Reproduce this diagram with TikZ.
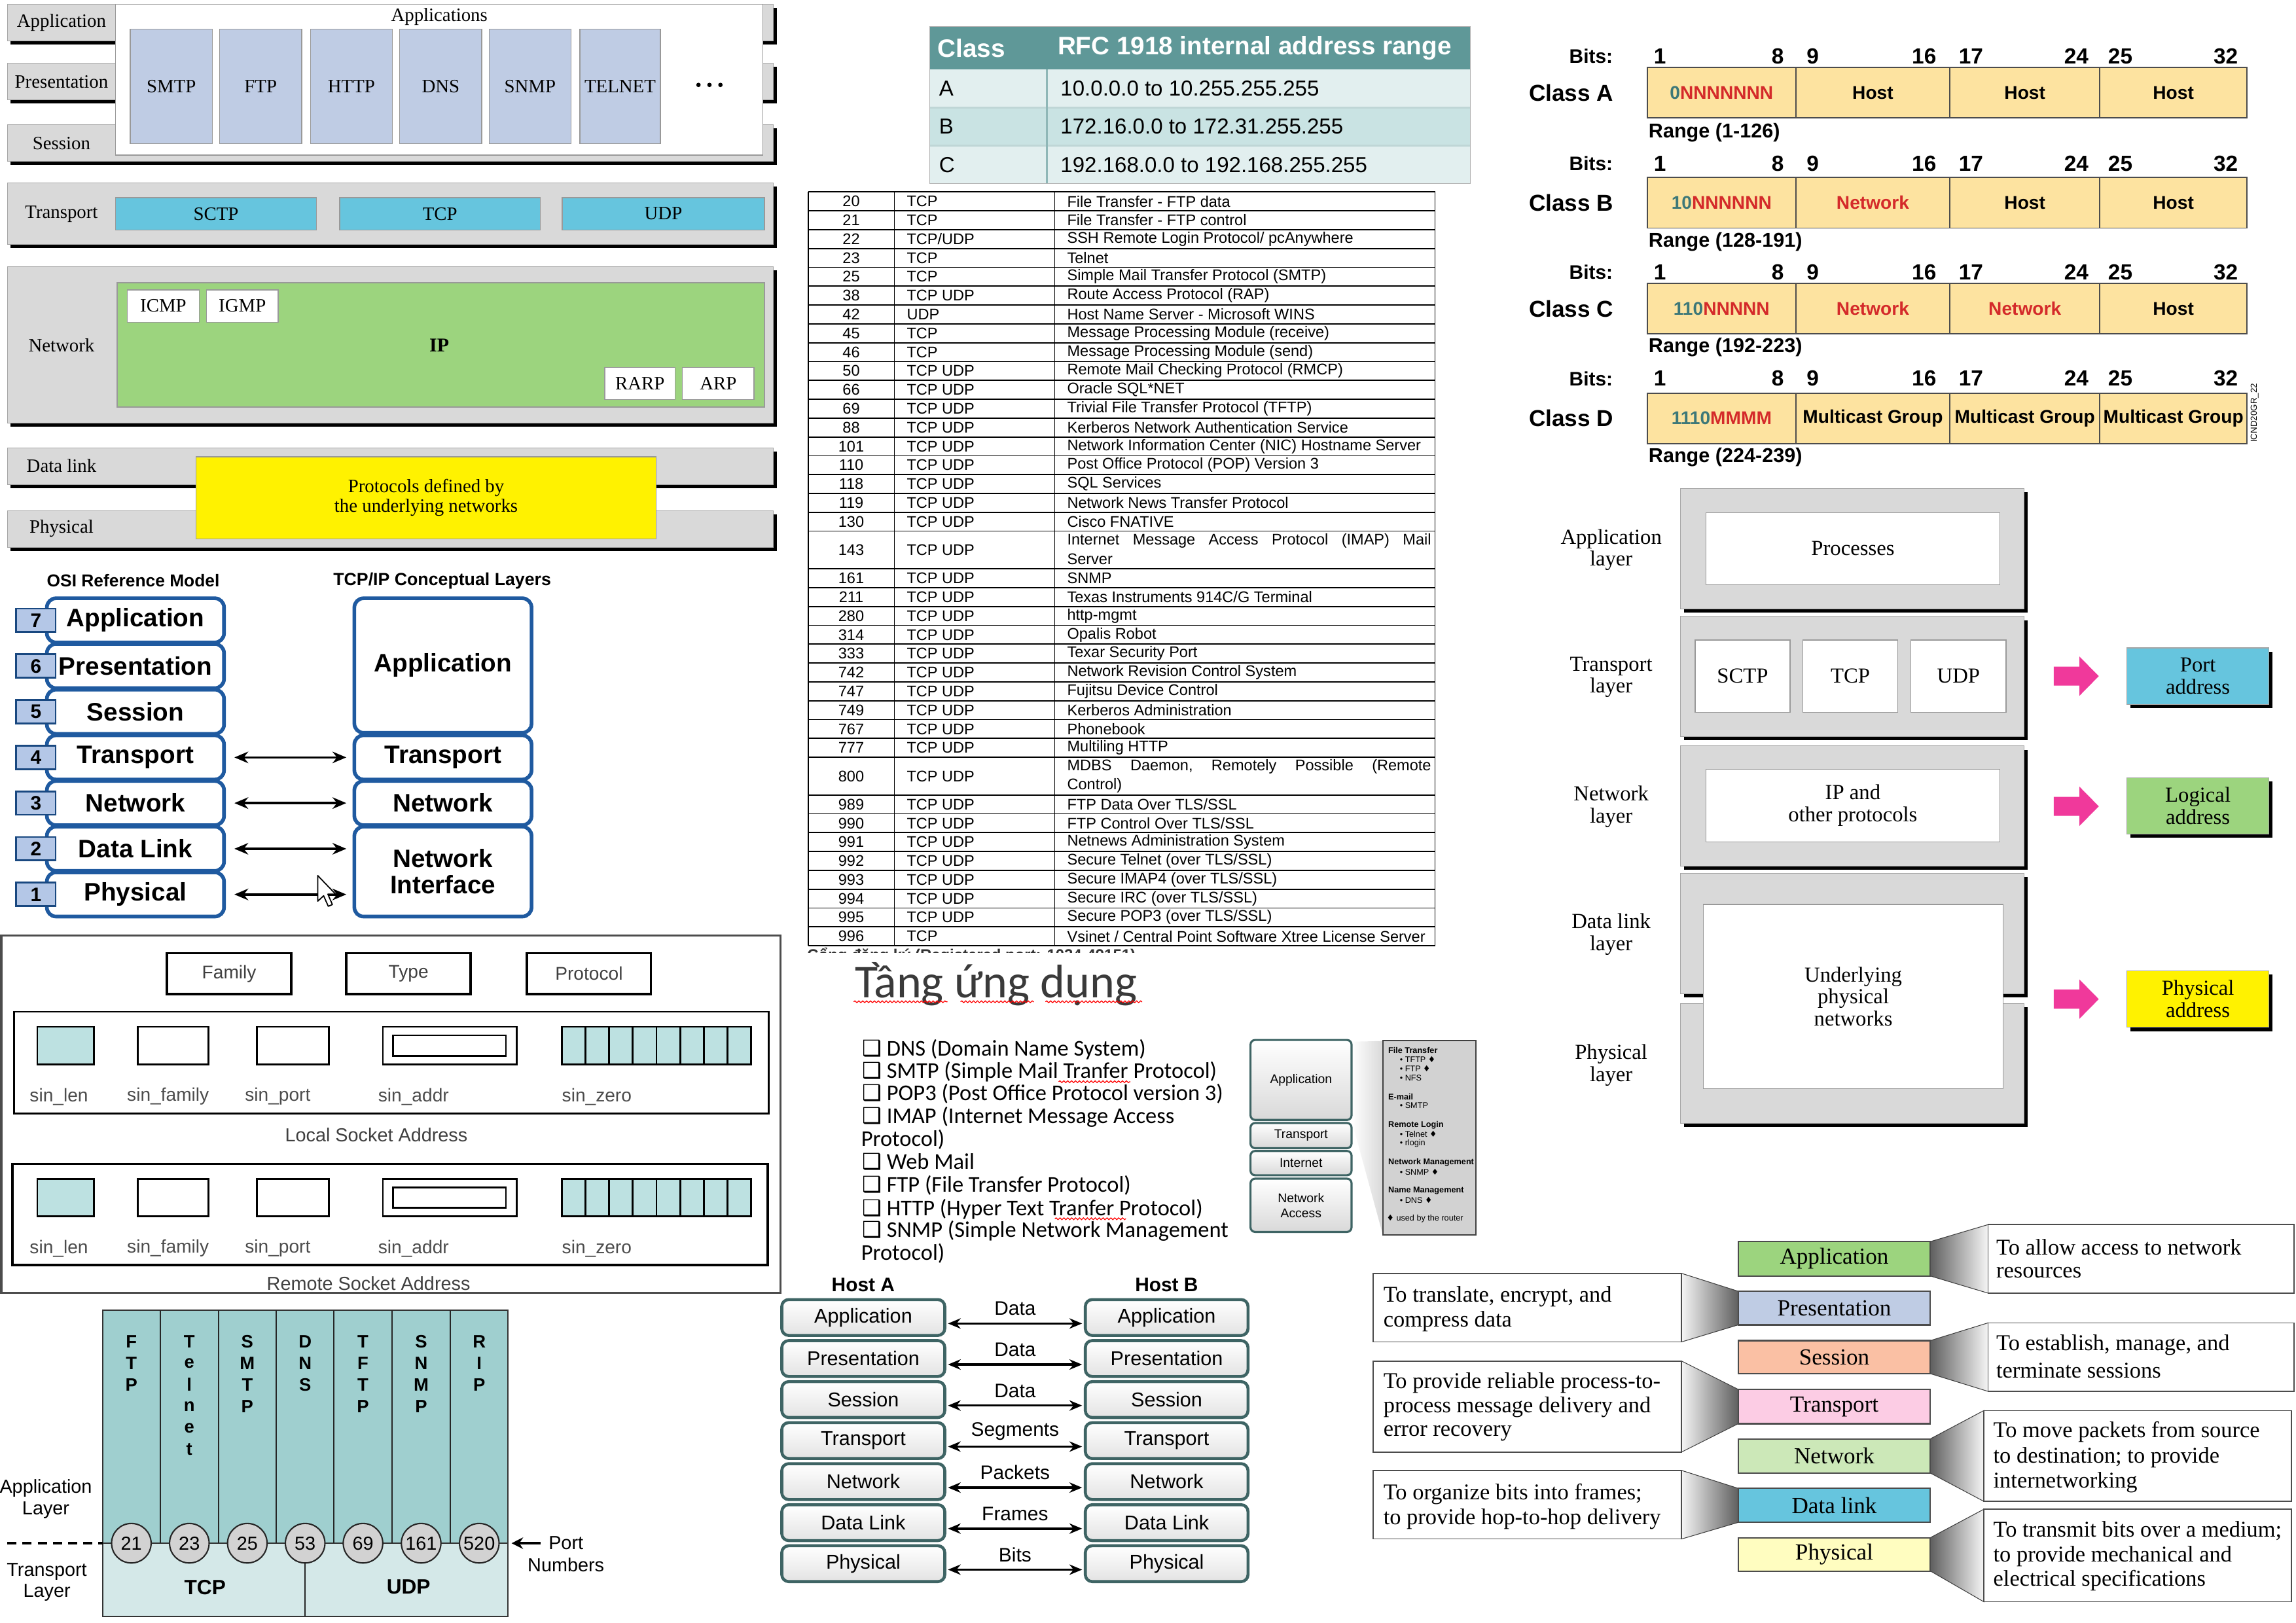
\documentclass[tikz,border=0pt]{standalone}
\usepackage{fontspec}
\setmainfont{Liberation Serif}
\setsansfont{Liberation Sans}
\newfontfamily\carlito{Carlito}
\newfontfamily\dejavu{DejaVu Sans}
\usetikzlibrary{shadows,arrows.meta,decorations.pathmorphing,fit,calc}
\newcommand\fsz[2]{\fontsize{#1}{#2}\selectfont}
\def\ux{0.022372cm}
\definecolor{boxgray}{HTML}{D9D9D9}
\definecolor{protoblue}{HTML}{BFCCE4}
\definecolor{cyanbox}{HTML}{66C5DE}
\definecolor{greenbox}{HTML}{9CD47E}
\definecolor{osiblue}{HTML}{1F5AA0}
\definecolor{numfill}{HTML}{B4C7E7}
\definecolor{portteal}{HTML}{9FCFCF}
\definecolor{portlight}{HTML}{D4E8E8}
\definecolor{circgray}{HTML}{D2D2D2}
\definecolor{sockteal}{HTML}{BDE1E1}
\definecolor{rfchead}{HTML}{5F9898}
\definecolor{rfcrowa}{HTML}{E2EFEF}
\definecolor{rfcrowb}{HTML}{C9E3E3}
\definecolor{classfill}{HTML}{FDE3A0}
\definecolor{classteal}{HTML}{3D7878}
\definecolor{classred}{HTML}{D42A2A}
\definecolor{pinkarrow}{HTML}{F0399B}
\definecolor{hostborder}{HTML}{3E6464}
\definecolor{titlegray}{HTML}{3A3A3A}
\definecolor{fpres}{HTML}{BFCCE4}
\definecolor{fses}{HTML}{FAC0A4}
\definecolor{ftrans}{HTML}{FCCCE4}
\definecolor{fnet}{HTML}{CCE8B8}
\definecolor{fphys}{HTML}{FFFDC0}
\tikzset{
 bx/.style={inner sep=0pt, outer sep=0pt},
 stackbox/.style={bx, fill=boxgray, draw=gray!70, line width=0.3pt,
   drop shadow={shadow xshift=1.5pt, shadow yshift=-1.6pt, fill=black, opacity=1}},
 whitebox/.style={bx, fill=white, draw=gray!80, line width=0.4pt},
 protobox/.style={bx, fill=protoblue, draw=gray!80, line width=0.4pt},
 cyanb/.style={bx, fill=cyanbox, draw=gray!80, line width=0.4pt},
 greenb/.style={bx, fill=greenbox, draw=gray!80, line width=0.4pt},
 osibox/.style={bx, draw=osiblue, line width=1.6pt, rounded corners=4pt, fill=white},
 numbox/.style={bx, draw=osiblue!80!black, line width=0.8pt, fill=numfill},
 dblarrow/.style={{Stealth[length=6pt,width=5pt]}-{Stealth[length=6pt,width=5pt]}, line width=1pt, shorten <=4.5pt, shorten >=3.5pt},
 sockb/.style={bx, draw=black, line width=0.8pt, fill=white},
 classcell/.style={bx, fill=classfill, draw=gray!60!black, line width=0.5pt},
 hostbox/.style={bx, rounded corners=3pt, draw=hostborder, line width=1.3pt, top color=white, bottom color=gray!22},
 harrow/.style={{Stealth[length=5.5pt,width=4.5pt]}-{Stealth[length=5.5pt,width=4.5pt]}, line width=1pt, shorten <=1.4pt, shorten >=1.4pt},
 tcpbox/.style={bx, rounded corners=2pt, draw=hostborder, line width=0.9pt, top color=white, bottom color=gray!30},
 fnbox/.style={bx, draw=gray!60!black, line width=0.6pt},
 txtbox/.style={bx, draw=gray!60!black, line width=0.5pt, fill=white},
 rwedge/.style={left color=gray!75!black, right color=gray!8, draw=gray!50!black, line width=0.3pt},
 lwedge/.style={left color=gray!8, right color=gray!75!black, draw=gray!50!black, line width=0.3pt},
 ftext/.style={anchor=west, inner sep=0pt, font=\rmfamily\fsz{9.8}{11}},
 bul/.style={anchor=base west, inner sep=0pt, font=\carlito\fsz{9.8}{11}},
 squig/.style={red, line width=0.35pt, decorate, decoration={snake, amplitude=0.4pt, segment length=1.7pt}},
 pinkarr/.pic={\fill[pinkarrow] (0,-6.5) -- (17.6,-6.5) -- (17.6,-13.4) -- (30.8,0) -- (17.6,13.4) -- (17.6,6.5) -- (0,6.5) -- cycle;}
}
\newcommand\cbx{{\dejavu\fsz{9.5}{10}❑}}
\newcommand\sockrow[4]{%
 \node[sockb, fill=sockteal, fit={(25.5,#2)(64,#3)}] (#1len) {};
 \node[sockb, fit={(94,#2)(142.5,#3)}] (#1fam) {};
 \node[sockb, fit={(175.5,#2)(224.5,#3)}] (#1port) {};
 \node[sockb, fit={(261.5,#2)(353,#3)}] (#1addr) {};
 \node[sockb, fit={(268.3,#2+5.8)(345.5,#3-5.8)}] (#1addrin) {};
 \node[sockb, fill=sockteal, fit={(383.7,#2)(513,#3)}] (#1zero) {};
 \foreach \k in {1,...,7} \draw[line width=0.8pt] (383.7+16.16*\k,#2) -- (383.7+16.16*\k,#3);
 \begin{scope}[every node/.style={anchor=west, inner sep=0pt, text=black!70}]
  \node (#1lenT) at (20,#4) {sin\_len};
  \node (#1famT) at (86.5,#4) {sin\_family};
  \node (#1portT) at (167,#4) {sin\_port};
  \node (#1addrT) at (258,#4) {sin\_addr};
  \node (#1zeroT) at (383.5,#4) {sin\_zero};
 \end{scope}
}
\newcommand\bitsrow[2]{%
 \node[anchor=east, inner sep=0pt, font=\sffamily\bfseries\fsz{8.5}{10}] (#2bits) at (1101.7,#1) {Bits:};
 \foreach \v/\xx in {1/1133.6,8/1214,9/1238,16/1314,17/1346,24/1418,25/1448,32/1520}
   \node[inner sep=0pt, font=\sffamily\bfseries\fsz{9.5}{11}] (#2b\v) at (\xx,#1) {\v};
}
\newcommand\classrow[7]{%
 \node[classcell, fit={(1125,#2)(1226.4,#3)}] (#1c1) {};
 \node[classcell, fit={(1226.4,#2)(1331.6,#3)}] (#1c2) {};
 \node[classcell, fit={(1331.6,#2)(1434,#3)}] (#1c3) {};
 \node[classcell, fit={(1434,#2)(1534.5,#3)}] (#1c4) {};
 \begin{scope}[every node/.style={inner sep=0pt, font=\sffamily\bfseries\fsz{8}{9}}]
  \node (#1t1) at (#1c1.center) {#4};
  \node (#1t2) at (#1c2.center) {#5};
  \node (#1t3) at (#1c3.center) {#6};
  \node (#1t4) at (#1c4.center) {#7};
 \end{scope}
}
\begin{document}
\begin{tikzpicture}[x=0.022372cm,y=-0.022372cm]
\useasboundingbox (0,0) rectangle (1568,1108.5);
\fill[white] (0,0) rectangle (1568,1108.5);

%================ 1. TCP/IP protocol suite
\begin{scope}[font=\rmfamily\fsz{8.2}{9.8}]
 \node[stackbox, fit={(5,3)(528,28)}] (r1app) {};
 \node[stackbox, fit={(5,43)(528,68)}] (r1pre) {};
 \node[stackbox, fit={(5,85)(528,110)}] (r1ses) {};
 \node[whitebox, fit={(79,3)(521,106)}] (r1apps) {};
 \node (r1appT) at (42,15.5) {Application};
 \node (r1preT) at (42,56) {Presentation};
 \node (r1sesT) at (42,98) {Session};
 \node (r1appsT) at (300,11.5) {Applications};
 \foreach \n/\a/\b [count=\i] in {SMTP/89/145,FTP/150/206,HTTP/212/268,DNS/273/329,SNMP/334/390,TELNET/396/451}{
   \node[protobox, fit={(\a,20)(\b,98)}] (r1p\i) {};
   \node (r1pT\i) at (r1p\i.center) {\n};
 }
 \foreach \xx in {477,484.5,492} \fill (\xx,58) circle[radius=1.5];
 \node[stackbox, fit={(5,125)(528,167)}] (r1tr) {};
 \node (r1trT) at (42,146) {Transport};
 \foreach \n/\a/\b [count=\i] in {SCTP/79/216,TCP/232/369,UDP/384/522}{
   \node[cyanb, fit={(\a,135)(\b,157)}] (r1t\i) {};
   \node (r1tT\i) at (r1t\i.center) {\n};
 }
 \node[stackbox, fit={(5,182)(528,289)}] (r1net) {};
 \node (r1netT) at (42,236) {Network};
 \node[greenb, fit={(80,193)(522,278)}] (r1ip) {};
 \node[font=\rmfamily\bfseries\fsz{8.5}{10}] (r1ipT) at (300,236) {IP};
 \foreach \n/\a/\b/\yt/\yb [count=\i] in {ICMP/87/136/198/220,IGMP/141/190/198/220,RARP/413/461/251/273,ARP/466/515/251/273}{
   \node[whitebox, fit={(\a,\yt)(\b,\yb)}] (r1n\i) {};
   \node (r1nT\i) at (r1n\i.center) {\n};
 }
 \node[stackbox, fit={(5,306)(528,331)}] (r1dl) {};
 \node (r1dlT) at (42,318) {Data link};
 \node[stackbox, fit={(5,349)(528,374)}] (r1ph) {};
 \node (r1phT) at (42,361) {Physical};
 \node[bx, fill=yellow, draw=gray!80, line width=0.4pt, fit={(134,312)(448,368)}] (r1yel) {};
 \node[align=center, font=\rmfamily\fsz{8.2}{8.5}] (r1yelT) at (r1yel.center) {Protocols defined by\\the underlying networks};
\end{scope}

%================ 2. OSI vs TCP/IP
\begin{scope}[font=\sffamily\bfseries\fsz{11}{11.5}]
 \node[font=\sffamily\bfseries\fsz{7.5}{9}] (osiTitle) at (91,396.6) {OSI Reference Model};
 \node[font=\sffamily\bfseries\fsz{7.6}{9}] (tcpTitle) at (302,396.6) {TCP/IP Conceptual Layers};
 \foreach \nm/\num [count=\i from 0] in {Application/7,Presentation/6,Session/5,Transport/4,Network/3,Data Link/2,Physical/1}{
   \pgfmathsetmacro\yt{408.6+31.2*\i}
   \pgfmathsetmacro\yb{\yt+30.2}
   \node[osibox, fit={(32,\yt)(153,\yb)}] (osi\num) {};
   \node (osiT\num) at (osi\num.center) {\nm};
   \node[numbox, fit={(11,\yt+7.1)(38,\yt+23.1)}] (osiN\num) {};
   \node[font=\sffamily\bfseries\fsz{8.5}{10}] (osiNT\num) at (osiN\num.center) {\num};
 }
 \node[osibox, fit={(242,408.6)(363,500.5)}] (tcpApp) {};
 \node (tcpAppT) at (tcpApp.center) {Application};
 \node[osibox, fit={(242,502.2)(363,532.4)}] (tcpTr) {};
 \node (tcpTrT) at (tcpTr.center) {Transport};
 \node[osibox, fit={(242,533.4)(363,563.6)}] (tcpNet) {};
 \node (tcpNetT) at (tcpNet.center) {Network};
 \node[osibox, fit={(242,564.6)(363,626)}] (tcpNI) {};
 \node[align=center] (tcpNIT) at (tcpNI.center) {Network\\Interface};
 \draw[dblarrow] (osi4.east) -- (tcpTr.west);
 \draw[dblarrow] (osi3.east) -- (tcpNet.west);
 \draw[dblarrow] (osi2.east) -- (osi2.east -| tcpNI.west);
 \draw[dblarrow] (osi1.east) -- (osi1.east -| tcpNI.west);
 \draw[fill=white, line width=0.5pt, line join=round] (217,598) -- (217,615.5) -- (221,611.8) -- (224.2,619) -- (227,617.8) -- (223.9,610.7) -- (229.2,610.7) -- cycle;
\end{scope}

%================ 3. Socket address
\begin{scope}[font=\sffamily\fsz{8}{9.6}]
 \node[bx, draw=black!70, line width=1pt, fit={(1,639)(533,883)}] (sOut) {};
 \foreach \n/\a/\b [count=\i] in {Family/114/199,Type/236.5/321.5,Protocol/360/444.5}{
   \node[sockb, line width=1.1pt, fit={(\a,651)(\b,679)}] (sH\i) {};
   \node[text=black!75] (sHT\i) at (sH\i.center) {\n};
 }
 \node[sockb, fill=none, fit={(9.6,691)(525,760.5)}] (sLocal) {};
 \sockrow{sL}{701.3}{727}{749}
 \node[text=black!75, font=\sffamily\fsz{8.2}{9.6}] (sLocalT) at (257,775) {Local Socket Address};
 \node[sockb, fill=none, line width=1pt, fit={(8.6,795)(524.3,864)}] (sRemote) {};
 \sockrow{sR}{805.4}{830.6}{852.7}
 \node[text=black!75, font=\sffamily\fsz{8.2}{9.6}] (sRemoteT) at (251.7,876.7) {Remote Socket Address};
\end{scope}

%================ 4. Port numbers
\begin{scope}[font=\sffamily\fsz{8.2}{9.2}]
 \node[bx, fill=portteal, draw=gray!40!black, line width=0.6pt, fit={(70,895)(347,1054)}] (pUp) {};
 \node[bx, fill=portlight, draw=gray!40!black, line width=0.6pt, fit={(70,1054)(347,1104)}] (pLow) {};
 \foreach \xx in {109.4,149.2,188.6,228.1,267.6,307.6} \draw[gray!30!black, line width=0.5pt] (\xx,895) -- (\xx,1054);
 \draw[gray!30!black, line width=0.5pt] (208.4,1054) -- (208.4,1104);
 \begin{scope}[every node/.style={inner sep=0pt, font=\sffamily\bfseries\fsz{7.8}{9}}]
  \foreach \L [count=\k from 0] in {F,T,P} \node (lF\k) at (89.7,916.4+14.7*\k) {\L};
  \foreach \L [count=\k from 0] in {T,e,l,n,e,t} \node (lT\k) at (129.3,916.4+14.7*\k) {\L};
  \foreach \L [count=\k from 0] in {S,M,T,P} \node (lS\k) at (168.9,916.4+14.7*\k) {\L};
  \foreach \L [count=\k from 0] in {D,N,S} \node (lD\k) at (208.4,916.4+14.7*\k) {\L};
  \foreach \L [count=\k from 0] in {T,F,T,P} \node (lTF\k) at (247.9,916.4+14.7*\k) {\L};
  \foreach \L [count=\k from 0] in {S,N,M,P} \node (lSN\k) at (287.6,916.4+14.7*\k) {\L};
  \foreach \L [count=\k from 0] in {R,I,P} \node (lR\k) at (327.3,916.4+14.7*\k) {\L};
 \end{scope}
 \foreach \v/\xx [count=\i] in {21/89.7,23/129.3,25/168.9,53/208.4,69/247.9,161/287.6,520/327.3}
   \node[circle, draw=gray!30!black, line width=0.6pt, fill=circgray, minimum size=27*\ux, inner sep=0pt, font=\sffamily\fsz{8.2}{9}] (pc\i) at (\xx,1054) {\v};
 \coordinate (pDashS) at (5,1054);
 \draw[dash pattern=on 4pt off 2.6pt, line width=1.3pt] (pDashS) -- (pUp.south west);
 \node (pPort) at (386.5,1054) {Port};
 \node (pNum) at (386.5,1069) {Numbers};
 \draw[-{Stealth[length=5pt,width=5pt]}, line width=1.2pt, shorten >=1.5pt] (pPort.west) -- (pUp.south east);
 \node[align=center] (pAppL) at (31.3,1023.8) {Application\\Layer};
 \node[align=center] (pTrL) at (32,1080.6) {Transport\\Layer};
 \node[font=\sffamily\bfseries\fsz{9}{10}] (pTCP) at (140,1084) {TCP};
 \node[font=\sffamily\bfseries\fsz{9}{10}] (pUDP) at (279,1084) {UDP};
\end{scope}

%================ 5. RFC 1918 table
\begin{scope}[every node/.style={inner sep=0pt, anchor=west, font=\sffamily\fsz{9.4}{11}}]
 \node[bx, fill=rfchead, fit={(635,18)(1004,47.5)}] (rfcHead) {};
 \node[bx, fill=rfcrowa, fit={(635,47.5)(1004,73.5)}] (rfcA) {};
 \node[bx, fill=rfcrowb, fit={(635,73.5)(1004,99.5)}] (rfcB) {};
 \node[bx, fill=rfcrowa, fit={(635,99.5)(1004,125.5)}] (rfcC) {};
 \draw[white!60!rfchead, line width=0.8pt] (635,73.5) -- (1004,73.5) (635,99.5) -- (1004,99.5);
 \draw[rfchead!70, line width=0.8pt] (715,47.5) -- (715,125.5);
 \draw[gray!60, line width=0.4pt] (635,18) rectangle (1004,125.5);
 \node[text=white, font=\sffamily\bfseries\fsz{11}{13}] (rfcH1) at (640,33) {Class};
 \node[text=white, font=\sffamily\bfseries\fsz{11}{13}] (rfcH2) at (722,33) {RFC 1918 internal address range};
 \node (rfcA1) at (641,60.5) {A};
 \node (rfcA2) at (724,60.5) {10.0.0.0 to 10.255.255.255};
 \node (rfcB1) at (641,86.5) {B};
 \node (rfcB2) at (724,86.5) {172.16.0.0 to 172.31.255.255};
 \node (rfcC1) at (641,112.5) {C};
 \node (rfcC2) at (724,112.5) {192.168.0.0 to 192.168.255.255};
\end{scope}

%================ 6. Port table
\begin{scope}[every node/.style={inner sep=0pt, font=\sffamily\fsz{6.7}{7.6}}]
 \foreach \s in {0,...,18} \draw[line width=0.5pt] (552,131.1+12.87*\s) -- (980,131.1+12.87*\s);
 \foreach \s in {20,...,30} \draw[line width=0.5pt] (552,131.1+12.87*\s) -- (980,131.1+12.87*\s);
 \foreach \s in {32,...,40} \draw[line width=0.5pt] (552,131.1+12.87*\s) -- (980,131.1+12.87*\s);
 \foreach \xx in {552,610.8,720.3,980} \draw[line width=0.5pt] (\xx,131.1) -- (\xx,645.9);
 \foreach \s/\n/\p/\d in {0/20/TCP/{File Transfer - FTP data},1/21/TCP/{File Transfer - FTP control},
   2/22/{TCP/UDP}/{SSH Remote Login Protocol/ pcAnywhere},3/23/TCP/{Telnet},
   4/25/TCP/{Simple Mail Transfer Protocol (SMTP)},5/38/{TCP UDP}/{Route Access Protocol (RAP)},
   6/42/UDP/{Host Name Server - Microsoft WINS},7/45/TCP/{Message Processing Module (receive)},
   8/46/TCP/{Message Processing Module (send)},9/50/{TCP UDP}/{Remote Mail Checking Protocol (RMCP)},
   10/66/{TCP UDP}/{Oracle SQL*NET},11/69/{TCP UDP}/{Trivial File Transfer Protocol (TFTP)},
   12/88/{TCP UDP}/{Kerberos Network Authentication Service},13/101/{TCP UDP}/{Network Information Center (NIC) Hostname Server},
   14/110/{TCP UDP}/{Post Office Protocol (POP) Version 3},15/118/{TCP UDP}/{SQL Services},
   16/119/{TCP UDP}/{Network News Transfer Protocol},17/130/{TCP UDP}/{Cisco FNATIVE},
   20/161/{TCP UDP}/{SNMP},21/211/{TCP UDP}/{Texas Instruments 914C/G Terminal},
   22/280/{TCP UDP}/{http-mgmt},23/314/{TCP UDP}/{Opalis Robot},
   24/333/{TCP UDP}/{Texar Security Port},25/742/{TCP UDP}/{Network Revision Control System},
   26/747/{TCP UDP}/{Fujitsu Device Control},27/749/{TCP UDP}/{Kerberos Administration},
   28/767/{TCP UDP}/{Phonebook},29/777/{TCP UDP}/{Multiling HTTP},
   32/989/{TCP UDP}/{FTP Data Over TLS/SSL},33/990/{TCP UDP}/{FTP Control Over TLS/SSL},
   34/991/{TCP UDP}/{Netnews Administration System},35/992/{TCP UDP}/{Secure Telnet (over TLS/SSL)},
   36/993/{TCP UDP}/{Secure IMAP4 (over TLS/SSL)},37/994/{TCP UDP}/{Secure IRC (over TLS/SSL)},
   38/995/{TCP UDP}/{Secure POP3 (over TLS/SSL)},39/996/TCP/{Vsinet / Central Point Software Xtree License Server}}{
   \node (ptn\n) at (581.3,131.1+12.87*\s+6.435) {\n};
   \node[anchor=west] (ptp\n) at (619,131.1+12.87*\s+6.435) {\p};
   \node[anchor=west] (ptd\n) at (728.5,131.1+12.87*\s+6.435) {\d};
 }
 \node (ptn143) at (581.3,375.6) {143};
 \node[anchor=west] (ptp143) at (619,375.6) {TCP UDP};
 \node[anchor=west] (ptd143a) at (728.5,369.2) {\hbox to 5.56cm{Internet\hfill Message\hfill Access\hfill Protocol\hfill (IMAP)\hfill Mail}};
 \node[anchor=west] (ptd143b) at (728.5,382) {Server};
 \node (ptn800) at (581.3,530.1) {800};
 \node[anchor=west] (ptp800) at (619,530.1) {TCP UDP};
 \node[anchor=west] (ptd800a) at (728.5,523.6) {\hbox to 5.56cm{MDBS\hfill Daemon,\hfill Remotely\hfill Possible\hfill (Remote}};
 \node[anchor=west] (ptd800b) at (728.5,536.5) {Control)};
\end{scope}
\begin{scope}
 \clip (548,647.2) rectangle (800,650.6);
 \node[anchor=base west, inner sep=0pt, font=\sffamily\bfseries\fsz{6.8}{8}, text=black!80] (cutT) at (551,655.8) {Cổng đăng ký (Registered port: 1024-49151)};
\end{scope}

%================ 7. IP address classes
\bitsrow{38.5}{cA}
\classrow{cA}{46.1}{80.6}{\textcolor{classteal}{0}\textcolor{classred}{NNNNNNN}}{Host}{Host}{Host}
\bitsrow{111.7}{cB}
\classrow{cB}{121}{155.8}{\textcolor{classteal}{10}\textcolor{classred}{NNNNNN}}{\textcolor{classred}{Network}}{Host}{Host}
\bitsrow{186}{cC}
\classrow{cC}{193.5}{228}{\textcolor{classteal}{110}\textcolor{classred}{NNNNN}}{\textcolor{classred}{Network}}{\textcolor{classred}{Network}}{Host}
\bitsrow{258.5}{cD}
\classrow{cD}{268.6}{302.9}{\textcolor{classteal}{1110}\textcolor{classred}{MMMM}}{Multicast Group}{Multicast Group}{Multicast Group}
\begin{scope}[every node/.style={inner sep=0pt, font=\sffamily\bfseries\fsz{10}{12}}]
 \node (cAlab) at (1073,63.4) {Class A};
 \node (cBlab) at (1073,138.4) {Class B};
 \node (cClab) at (1073,210.8) {Class C};
 \node (cDlab) at (1073,285.8) {Class D};
\end{scope}
\begin{scope}[every node/.style={inner sep=0pt, anchor=west, font=\sffamily\bfseries\fsz{8.7}{10}}]
 \node (cArng) at (1125.6,90.6) {Range (1-126)};
 \node (cBrng) at (1125.6,165.3) {Range (128-191)};
 \node (cCrng) at (1125.6,237) {Range (192-223)};
 \node (cDrng) at (1125.6,312.3) {Range (224-239)};
\end{scope}
\node[rotate=90, inner sep=0pt, font=\sffamily\fsz{3.8}{4.5}] (icnd) at (1539.7,282) {ICND20GR\_22};

%================ 8. Layers and addresses
\begin{scope}[font=\rmfamily\fsz{9.3}{9.6}]
 \foreach \nm/\yt/\yb/\ly [count=\i] in {Application/333.7/415.7/375.5,Transport/421/503/462.5,Network/509.5/591.5/551,Data link/596.6/678.8/638.3,Physical/685.4/767.3/727.4}{
   \node[stackbox, fit={(1147.7,\yt)(1382.3,\yb)}] (aL\i) {};
   \node[align=center] (aLT\i) at (1100.3,\ly) {\nm\\layer};
 }
 \node[whitebox, fit={(1165,350.1)(1365.7,399.3)}] (aProc) {};
 \node (aProcT) at (aProc.center) {Processes};
 \foreach \n/\a/\b [count=\i] in {SCTP/1157.7/1222.4,TCP/1231.3/1296,UDP/1305/1370}{
   \node[whitebox, fit={(\a,437.1)(\b,486.6)}] (aT\i) {};
   \node (aTT\i) at (aT\i.center) {\n};
 }
 \node[whitebox, fit={(1165,525.3)(1365.7,575.1)}] (aIP) {};
 \node[align=center] (aIPT) at (aIP.center) {IP and\\other protocols};
 \node[whitebox, fit={(1163.3,617.7)(1368,743.5)}] (aUnd) {};
 \node[align=center] (aUndT) at (aUnd.center) {Underlying\\physical\\networks};
 \foreach \yy in {461.8,550.7,682.4} \pic at (1402.5,\yy) {pinkarr};
 \foreach \nm/\col/\yt/\yb [count=\i] in {Port/cyanbox/442.5/481.2,Logical/greenbox/531.3/569.7,Physical/yellow/663/701.7}{
   \node[bx, fill=\col, draw=gray!70, line width=0.3pt, drop shadow={shadow xshift=1.5pt, shadow yshift=-1.6pt, fill=black, opacity=1}, fit={(1452.5,\yt)(1549.5,\yb)}] (aAd\i) {};
   \node[align=center] (aAdT\i) at (aAd\i.center) {\nm\\address};
 }
\end{scope}

%================ 9. Application layer (Vietnamese)
\node[anchor=base west, inner sep=0pt, font=\carlito\fsz{20.5}{24}, text=titlegray] (title) at (583.5,681.5) {Tầng ứng dụng};
\draw[squig] (583,684.2) -- (647,684.2);
\draw[squig] (656,684.2) -- (706,684.2);
\draw[squig] (714,684.2) -- (780,684.2);
\node[bul] (bl1) at (588.4,721) {\cbx{} DNS (Domain Name System)};
\node[bul] (bl2) at (588.4,736.6) {\cbx{} SMTP (Simple Mail Tranfer Protocol)};
\node[bul] (bl3) at (588.4,751.8) {\cbx{} POP3 (Post Office Protocol version 3)};
\node[bul] (bl4) at (588.4,767.1) {\cbx{} IMAP (Internet Message Access};
\node[bul] (bl5) at (587.8,782.7) {Protocol)};
\node[bul] (bl6) at (588.4,798.6) {\cbx{} Web Mail};
\node[bul] (bl7) at (588.4,814.3) {\cbx{} FTP (File Transfer Protocol)};
\node[bul] (bl8) at (588.4,830.2) {\cbx{} HTTP (Hyper Text Tranfer Protocol)};
\node[bul] (bl9) at (588.4,845.1) {\cbx{} SNMP (Simple Network Management};
\node[bul] (bl10) at (587.8,860.7) {Protocol)};
\draw[squig] (723,738.8) -- (772,738.8);
\draw[squig] (720.4,832.4) -- (769,832.4);
% small stack picture
\shade[left color=white, right color=gray!30] (923,711.5) -- (944.4,711) -- (944.4,843.5) -- (923,765) -- cycle;
\begin{scope}[font=\sffamily\fsz{5.5}{6.5}]
 \node[tcpbox, fit={(854,710.3)(923,764.9)}] (mApp) {};
 \node (mAppT) at (mApp.center) {Application};
 \node[tcpbox, fit={(854,767)(923,784.2)}] (mTr) {};
 \node (mTrT) at (mTr.center) {Transport};
 \node[tcpbox, fit={(854,786.1)(923,802.7)}] (mIn) {};
 \node (mInT) at (mIn.center) {Internet};
 \node[tcpbox, fit={(854,805)(923,841.4)}] (mNA) {};
 \node[align=center] (mNAT) at (mNA.center) {Network\\Access};
\end{scope}
\node[bx, fill=gray!35, draw=gray!50!black, line width=0.5pt, fit={(944.4,710.6)(1008,843.6)}] (mPanel) {};
\begin{scope}[every node/.style={anchor=west, inner sep=0pt, font=\sffamily\fsz{3.6}{4.2}}]
 \node[font=\sffamily\bfseries\fsz{3.6}{4.2}] (mp1) at (947.8,717.3) {File Transfer};
 \node (mp2) at (955.7,723.7) {• TFTP {\dejavu ♦}};
 \node (mp3) at (955.7,729.9) {• FTP {\dejavu ♦}};
 \node (mp4) at (955.7,736.3) {• NFS};
 \node[font=\sffamily\bfseries\fsz{3.6}{4.2}] (mp5) at (947.8,749.2) {E-mail};
 \node (mp6) at (955.7,755.2) {• SMTP};
 \node[font=\sffamily\bfseries\fsz{3.6}{4.2}] (mp7) at (947.8,768.3) {Remote Login};
 \node (mp8) at (955.7,774.8) {• Telnet {\dejavu ♦}};
 \node (mp9) at (955.7,780.9) {• rlogin};
 \node[font=\sffamily\bfseries\fsz{3.6}{4.2}] (mp10) at (947.8,794.1) {Network Management};
 \node (mp11) at (955.7,800.5) {• SNMP {\dejavu ♦}};
 \node[font=\sffamily\bfseries\fsz{3.6}{4.2}] (mp12) at (947.8,813.4) {Name Management};
 \node (mp13) at (955.7,819.8) {• DNS {\dejavu ♦}};
 \node (mp14) at (946.7,832.5) {{\dejavu ♦} used by the router};
\end{scope}

%================ 10. Host A / Host B
\node[font=\sffamily\bfseries\fsz{8.5}{10}] (hostA) at (589.5,877.5) {Host A};
\node[font=\sffamily\bfseries\fsz{8.5}{10}] (hostB) at (796.7,877.5) {Host B};
\begin{scope}[font=\sffamily\fsz{8.7}{10}]
 \foreach \nm/\lab [count=\i from 0] in {Application/Data,Presentation/Data,Session/Data,Transport/Segments,Network/Packets,Data Link/Frames,Physical/Bits}{
   \pgfmathsetmacro\yt{887.6+28.02*\i}
   \pgfmathsetmacro\yb{\yt+24.5}
   \node[hostbox, fit={(533.9,\yt)(645.2,\yb)}] (hA\i) {};
   \node (hAT\i) at (hA\i.center) {\nm};
   \node[hostbox, fit={(741.2,\yt)(852.3,\yb)}] (hB\i) {};
   \node (hBT\i) at (hB\i.center) {\nm};
   \draw[harrow] ([yshift=-2.6pt]hA\i.east) -- ([yshift=-2.6pt]hB\i.west) node[midway, yshift=6.5pt, font=\sffamily\fsz{8.5}{10}] (hL\i) {\lab};
 }
\end{scope}

%================ 11. OSI layer functions
\shadedraw[rwedge] (1318.3,848) -- (1357.7,836.4) -- (1357.7,883.2) -- (1318.3,871.5) -- cycle;
\shadedraw[rwedge] (1318.3,915.6) -- (1357.7,903.5) -- (1357.7,950.3) -- (1318.3,938.2) -- cycle;
\shadedraw[rwedge] (1318.3,982.7) -- (1354.8,963.4) -- (1354.8,1025.4) -- (1318.3,1006.1) -- cycle;
\shadedraw[rwedge] (1318.3,1050.2) -- (1354.8,1030.8) -- (1354.8,1094) -- (1318.3,1073) -- cycle;
\shadedraw[lwedge] (1148.4,869.7) -- (1187,881.9) -- (1187,904.9) -- (1148.4,916.5) -- cycle;
\shadedraw[lwedge] (1148.4,929.6) -- (1187,948.9) -- (1187,972.4) -- (1148.4,991.7) -- cycle;
\shadedraw[lwedge] (1148.4,1004.3) -- (1187,1016.5) -- (1187,1039.8) -- (1148.4,1051.1) -- cycle;
\foreach \nm/\col/\yt/\yb [count=\i] in {Application/greenbox/848/871.5,Presentation/fpres/881.9/904.9,Session/fses/915.6/938.2,Transport/ftrans/948.9/972.4,Network/fnet/982.7/1006.1,Data link/cyanbox/1016.5/1039.8,Physical/fphys/1050.2/1073}{
  \node[fnbox, fill=\col, fit={(1187,\yt)(1318.3,\yb)}] (fL\i) {};
  \node[font=\rmfamily\fsz{10}{12}] (fLT\i) at (fL\i.center) {\nm};
}
\node[txtbox, fit={(1357.7,836.4)(1566.5,883.2)}] (fR1) {};
\node[txtbox, fit={(1357.7,903.5)(1566.5,950.3)}] (fR2) {};
\node[txtbox, fit={(1354.8,963.4)(1565,1025.4)}] (fR3) {};
\node[txtbox, fit={(1354.8,1030.8)(1565,1094)}] (fR4) {};
\node[txtbox, fit={(937.6,869.7)(1148.4,916.5)}] (fQ1) {};
\node[txtbox, fit={(937.6,929.6)(1148.4,991.7)}] (fQ2) {};
\node[txtbox, fit={(937.6,1004.3)(1148.4,1051.1)}] (fQ3) {};
\node[ftext] (fx1) at (1363,851.7) {To allow access to network};
\node[ftext] (fx2) at (1363,869) {resources};
\node[ftext] (fx3) at (944.5,885.5) {To translate, encrypt, and};
\node[ftext] (fx4) at (944.5,902.6) {compress data};
\node[ftext] (fx5) at (1363,918.8) {To establish, manage, and};
\node[ftext] (fx6) at (1363,935.9) {terminate sessions};
\node[ftext] (fx7) at (944.5,944.5) {To provide reliable process-to-};
\node[ftext] (fx8) at (944.5,961.1) {process message delivery and};
\node[ftext] (fx9) at (944.5,978.7) {error recovery};
\node[ftext] (fx10) at (1361,978.2) {To move packets from source};
\node[ftext] (fx11) at (1361,995.3) {to destination; to provide};
\node[ftext] (fx12) at (1361,1012.4) {internetworking};
\node[ftext] (fx13) at (944.5,1020.5) {To organize bits into frames;};
\node[ftext] (fx14) at (944.5,1037.6) {to provide hop-to-hop delivery};
\node[ftext] (fx15) at (1361,1045.7) {To transmit bits over a medium;};
\node[ftext] (fx16) at (1361,1062.8) {to provide mechanical and};
\node[ftext] (fx17) at (1361,1079.4) {electrical specifications};
\end{tikzpicture}
\end{document}
